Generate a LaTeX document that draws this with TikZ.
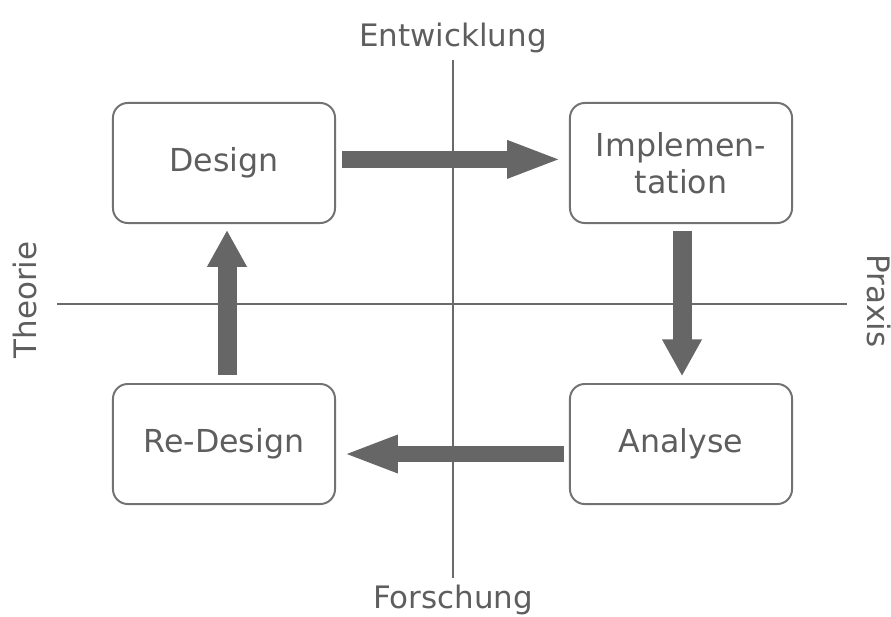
\documentclass[tikz,border=0pt]{standalone}
\usepackage{fontspec}
\setmainfont{DejaVu Sans}
\usetikzlibrary{arrows.meta, positioning}

\definecolor{linegray}{HTML}{6A6A6A}
\definecolor{boxgray}{HTML}{727272}
\definecolor{arrowgray}{HTML}{666666}
\definecolor{textgray}{HTML}{5E5E5E}

\tikzset{
    phase/.style={draw=boxgray, line width=1.4pt, rounded corners=0.37cm, minimum width=5.55cm, minimum height=3cm, inner sep=0pt, align=center, text=textgray, font=\fontsize{22.5}{26}\selectfont},
    axislabel/.style={text=textgray, font=\fontsize{22}{26}\selectfont, inner sep=0pt, anchor=base},
    axisline/.style={draw=linegray, line width=1.4pt},
    harrow/.style={draw=arrowgray, line width=0.42cm, -{Triangle[length=1.375cm, width=0.85cm]}},
    varrow/.style={draw=arrowgray, line width=0.475cm, -{Triangle[length=0.92cm, width=0.93cm]}}
}

\begin{document}
\begin{tikzpicture}[x=0.025cm, y=-0.025cm]
\useasboundingbox (0,0) rectangle (891,616);

% axes
\node[axislabel] (entw) at (453,47) {Entwicklung};
\node[axislabel] (forsch) at (453,608) {Forschung};
\node[axislabel, rotate=90] (theorie) at (36,300) {Theorie};
\node[axislabel, rotate=-90] (praxis) at (867,301) {Praxis};
\coordinate (vtop) at (453,60);
\coordinate (vbot) at (453,578);
\coordinate (hleft) at (57,304);
\coordinate (hright) at (847,304);
\draw[axisline] (vtop) -- (vbot);
\draw[axisline] (hleft) -- (hright);

% phases
\node[phase] (design) at (224,163) {Design};
\node[phase] (impl) at (681,163) {Implemen-\\tation};
\node[phase] (analyse) at (681,444) {Analyse};
\node[phase] (redesign) at (224,444) {Re-Design};

% cycle
\draw[harrow, shorten <=0.15cm, shorten >=0.17cm] ([yshift=0.09cm]design.east) -- ([yshift=0.09cm]impl.west);
\draw[varrow, shorten <=0.17cm, shorten >=0.17cm] ([xshift=0.025cm]impl.south) -- ([xshift=0.025cm]analyse.north);
\draw[harrow, shorten <=0.12cm, shorten >=0.17cm] ([yshift=-0.25cm]analyse.west) -- ([yshift=-0.25cm]redesign.east);
\draw[varrow, shorten <=0.2cm, shorten >=0.15cm] ([xshift=0.075cm]redesign.north) -- ([xshift=0.075cm]design.south);

\end{tikzpicture}
\end{document}
